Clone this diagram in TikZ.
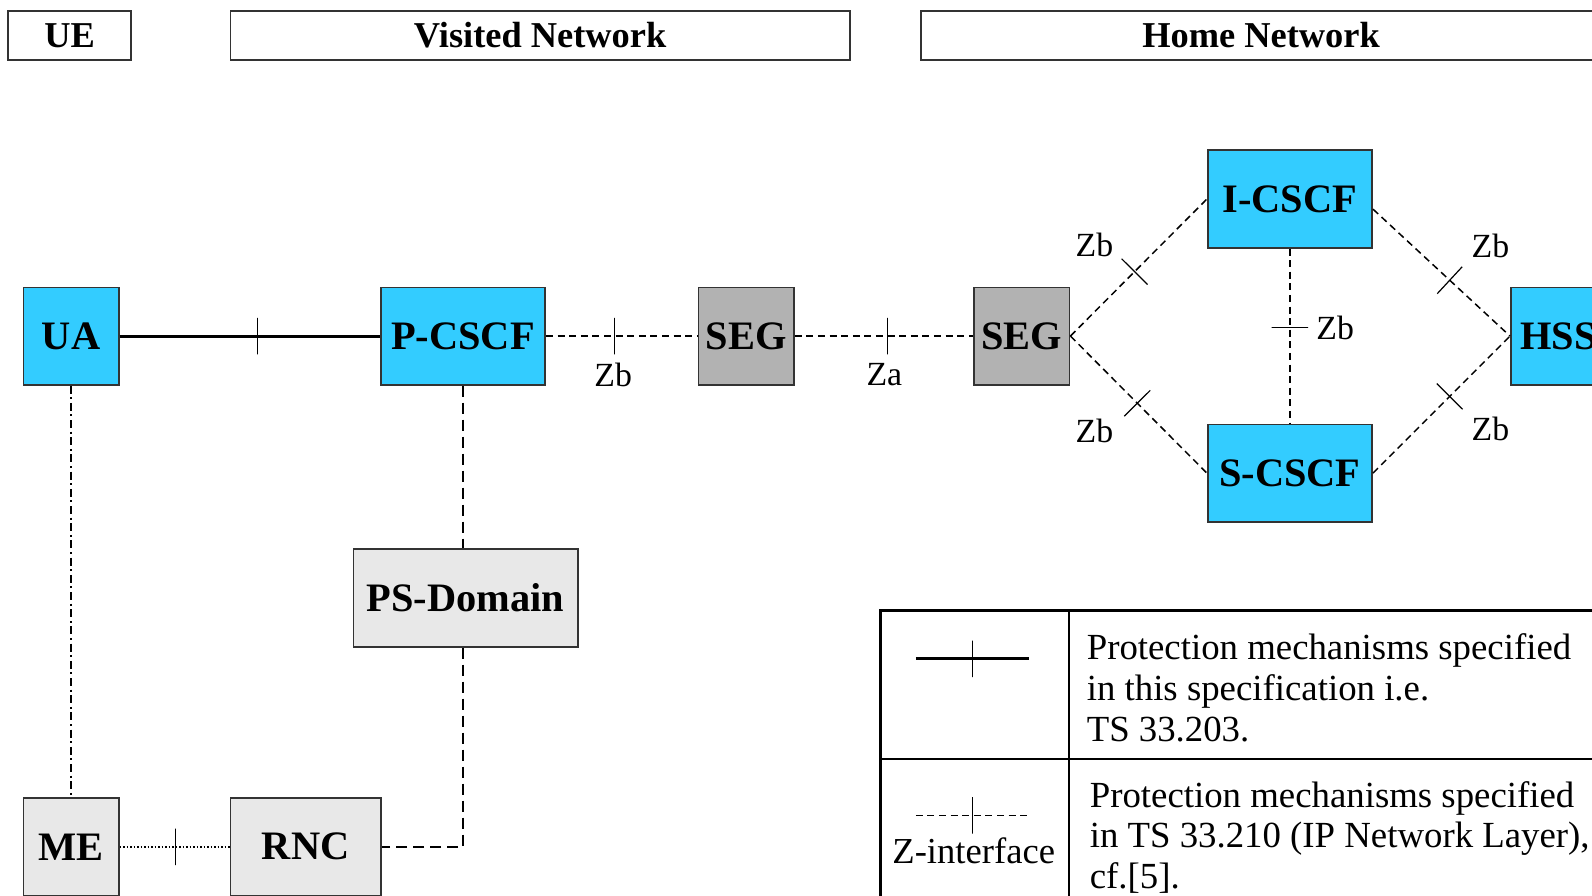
\documentclass[tikz,border=0pt]{standalone}
\usepackage{fontspec}
\setmainfont{Liberation Serif}

\def\px{0.50765pt}
\definecolor{cscfblue}{HTML}{33CCFF}
\definecolor{seggray}{HTML}{B2B2B2}
\definecolor{domgray}{HTML}{E8E8E8}
\definecolor{edgegray}{HTML}{333333}

\tikzset{
  netbox/.style={draw=edgegray, line width=0.8pt, inner sep=0pt, minimum height=96*\px,
    font=\fontsize{20.2}{24}\selectfont\bfseries},
  cscf/.style={netbox, fill=cscfblue, minimum width=162*\px},
  endpoint/.style={netbox, fill=cscfblue, minimum width=94*\px},
  gateway/.style={netbox, fill=seggray, minimum width=94*\px},
  access/.style={netbox, fill=domgray},
  domainhead/.style={draw=edgegray, line width=0.9pt, inner sep=0pt, minimum height=48*\px,
    font=\fontsize{18.2}{22}\selectfont\bfseries},
  zlabel/.style={inner sep=0pt, font=\fontsize{16.9}{20}\selectfont},
  legtext/.style={inner sep=0pt, align=left, anchor=north west,
    font=\fontsize{18.4}{20.3}\selectfont},
  zmark/.style={draw, solid, line width=0.6pt, sloped, inner sep=0pt,
    minimum width=0pt, minimum height=36*\px},
  imslink/.style={draw, line width=1.5pt},
  zlink/.style={draw, line width=0.75pt, dash pattern=on 3.5pt off 2.3pt},
  pslink/.style={draw, line width=0.75pt, dash pattern=on 5.5pt off 3pt},
  uelink/.style={draw, line width=0.75pt, dash pattern=on 4pt off 1.8pt on 1pt off 1.8pt},
  radiolink/.style={draw, line width=0.75pt, densely dotted}
}

\begin{document}
\begin{tikzpicture}[x=\px, y=-\px]
  \useasboundingbox (0,0) rectangle (1568,882);
  \clip (0,0) rectangle (1568,882);

  % domains
  \node[domainhead, minimum width=121*\px] (ue) at (68.5,35) {UE};
  \node[domainhead, minimum width=610*\px] (visited) at (532,35) {Visited Network};
  \node[domainhead, minimum width=670*\px] (home) at (1242,35) {Home Network};

  % network elements
  \node[endpoint] (ua) at (70,331) {UA};
  \node[cscf] (pcscf) at (456,331) {P-CSCF};
  \node[gateway] (segv) at (735,331) {SEG};
  \node[gateway] (segh) at (1006.5,331) {SEG};
  \node[cscf] (icscf) at (1270.5,196) {I-CSCF};
  \node[cscf] (scscf) at (1270.5,466) {S-CSCF};
  \node[endpoint] (hss) at (1535,331) {HSS};
  \node[access, minimum width=221*\px] (psdom) at (458.5,589) {PS-Domain};
  \node[access, minimum width=94*\px] (me) at (70,834) {ME};
  \node[access, minimum width=148*\px] (rnc) at (301,834) {RNC};

  % links
  \path[imslink] (ua) -- node[zmark, pos=0.53] {} (pcscf);
  \path[zlink] (pcscf) -- node[zmark, pos=0.45] {} (segv);
  \path[zlink] (segv) -- node[zmark, pos=0.52] {} (segh);
  \path[zlink] (segh.east) -- node[zmark, pos=0.47] {} (icscf.west);
  \path[zlink] (segh.east) -- node[zmark, pos=0.49] {} (scscf.west);
  \path[zlink] ([yshift=-10*\px]icscf.east) -- node[zmark, pos=0.56] {} (hss.west);
  \path[zlink] (scscf.east) -- node[zmark, pos=0.56] {} (hss.west);
  \path[zlink] (icscf) -- node[zmark, pos=0.45] {} (scscf);
  \path[uelink] (ua) -- (me);
  \path[pslink] (pcscf.south) -- (pcscf.south |- psdom.north);
  \path[pslink] (pcscf.south |- psdom.south) |- (rnc.east);
  \path[radiolink] (me) -- node[zmark, pos=0.51] {} (rnc);

  % interface labels
  \node[zlabel] (zbpv) at (604,369) {Zb};
  \node[zlabel] (za) at (871,369) {Za};
  \node[zlabel] (zbsi) at (1078,241) {Zb};
  \node[zlabel] (zbss) at (1078,424) {Zb};
  \node[zlabel] (zbih) at (1468,242) {Zb};
  \node[zlabel] (zbsh) at (1468,422) {Zb};
  \node[zlabel] (zbis) at (1315,323) {Zb};

  % legend
  \draw[line width=1.3pt] (867,601) rectangle (1600,900);
  \draw[line width=1pt] (1053,601) -- (1053,900);
  \draw[line width=1pt] (867,748) -- (1600,748);
  \coordinate (leg1a) at (902,649);
  \coordinate (leg1b) at (1013,649);
  \coordinate (leg2a) at (902,803);
  \coordinate (leg2b) at (1013,803);
  \path[imslink] (leg1a) -- node[zmark] {} (leg1b);
  \path[zlink] (leg2a) -- node[zmark] {} (leg2b);
  \node[zlabel, font=\fontsize{18.3}{20}\selectfont] (zif) at (959,838) {Z-interface};
  \node[legtext] (leg1text) at (1070,624) {Protection mechanisms specified\\in this specification i.e.\\TS 33.203.};
  \node[legtext] (leg2text) at (1073,769) {Protection mechanisms specified\\in TS 33.210 (IP Network Layer),\\cf.[5].};
\end{tikzpicture}
\end{document}
